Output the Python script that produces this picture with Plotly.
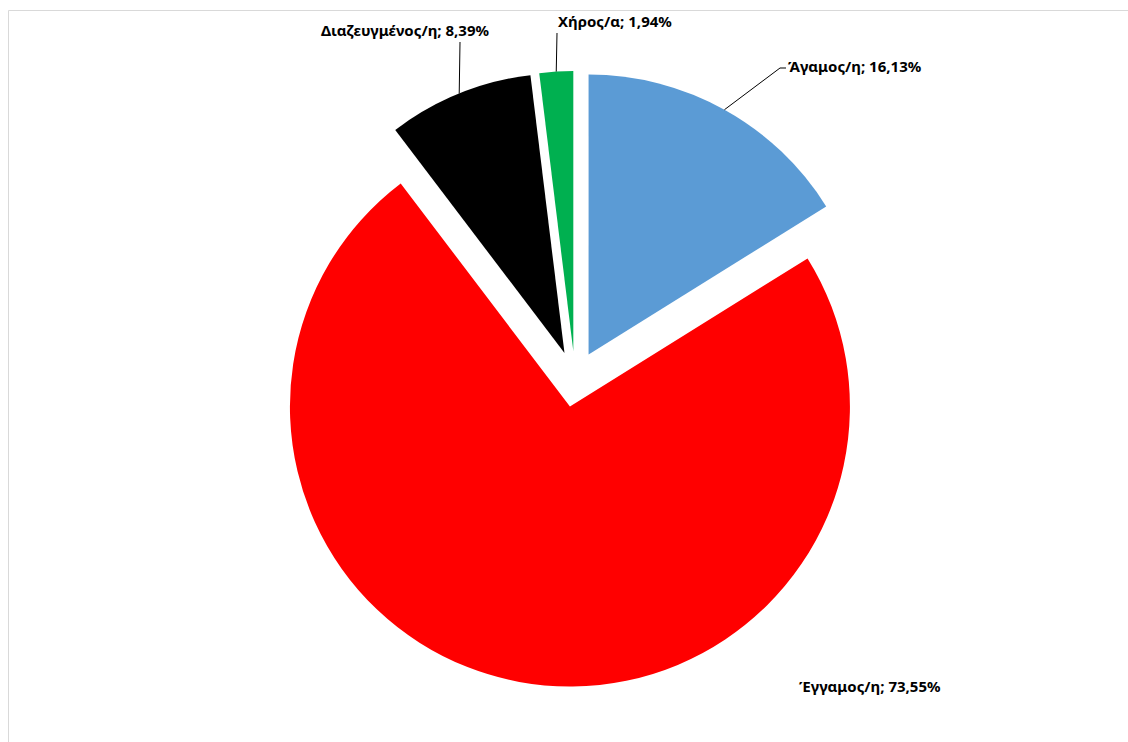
import math
import plotly.graph_objects as go

# Marital status shares (%)
labels = ["Άγαμος/η", "Έγγαμος/η", "Διαζευγμένος/η", "Χήρος/α"]
values = [16.13, 73.55, 8.39, 1.94]
colors = ["#5B9BD5", "#FF0000", "#000000", "#00B050"]

W, H = 1128, 742
PULL = 0.1
# pie centre and radius in pixels (from top-left)
CX, CY, R = 575, 379, 280
HALF = R * (1 + PULL)

fig = go.Figure(go.Pie(
    labels=labels,
    values=values,
    marker=dict(colors=colors, line=dict(width=0)),
    pull=[PULL] * len(values),
    sort=False,
    direction="clockwise",
    rotation=0,
    textinfo="none",
    hoverinfo="label+percent",
    showlegend=False,
    domain=dict(x=[(CX - HALF) / W, (CX + HALF) / W],
                y=[(H - CY - HALF) / H, (H - CY + HALF) / H]),
))


def px(x):
    return x / W


def py(y):
    return 1 - y / H


def fmt(label, v):
    return f"<b>{label}; {v:.2f}%</b>".replace(".", ",")


# mid-angle of every slice on its (pulled) outer arc
total = sum(values)
mids = []
acc = 0.0
for v in values:
    a = math.radians((acc + v / 2) / total * 360)
    ox, oy = CX + PULL * R * math.sin(a), CY - PULL * R * math.cos(a)
    mids.append((ox + R * math.sin(a), oy - R * math.cos(a)))
    acc += v

# label boxes: (centre x, centre y, leader polyline end points or None)
label_pos = [
    (855, 66, [(780, 68), (786, 68)]),
    (870, 686, None),
    (405, 30, [(460, 42)]),
    (615, 21, [(557, 33)]),
]

shapes = []
annotations = []
for (lx, ly, leader), lab, v, anchor in zip(label_pos, labels, values, mids):
    annotations.append(dict(
        x=px(lx), y=py(ly), xref="paper", yref="paper",
        text=fmt(lab, v), showarrow=False,
        font=dict(family="Noto Sans", size=15, color="#000000"),
        xanchor="center", yanchor="middle",
    ))
    if leader:
        pts = [anchor] + leader
        path = "M " + " L ".join(f"{px(x)},{py(y)}" for x, y in pts)
        shapes.append(dict(type="path", xref="paper", yref="paper", path=path,
                           line=dict(color="#000000", width=1)))

# chart-area frame
shapes.append(dict(type="line", xref="paper", yref="paper",
                   x0=px(8.5), x1=1.01, y0=py(10.5), y1=py(10.5),
                   line=dict(color="#D9D9D9", width=1)))
shapes.append(dict(type="line", xref="paper", yref="paper",
                   x0=px(8.5), x1=px(8.5), y0=py(10.5), y1=-0.01,
                   line=dict(color="#D9D9D9", width=1)))

fig.update_layout(
    width=W, height=H,
    margin=dict(l=0, r=0, t=0, b=0),
    paper_bgcolor="#FFFFFF",
    plot_bgcolor="#FFFFFF",
    shapes=shapes,
    annotations=annotations,
)

fig.write_html("out.html")
